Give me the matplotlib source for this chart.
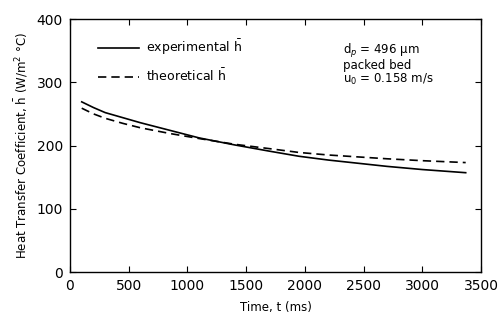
import matplotlib
matplotlib.use("Agg")
import matplotlib.pyplot as plt

time_exp = [100, 200, 300, 450, 600, 850, 1100, 1400, 1700, 1950, 2200, 2450, 2700, 3000, 3370]
h_exp = [269, 260, 252, 244, 236, 224, 212, 201, 191, 183, 177, 172, 167, 162, 157]
time_theo = [100, 200, 300, 450, 600, 850, 1100, 1400, 1700, 1950, 2200, 2450, 2700, 3000, 3370]
h_theo = [259, 250, 243, 235, 228, 219, 211, 202, 195, 189, 185, 182, 179, 176, 173]
xticks = [0, 500, 1000, 1500, 2000, 2500, 3000, 3500]
yticks = [0, 100, 200, 300, 400]

plt.rcParams['font.family'] = ['DejaVu Sans']
fig = plt.figure(figsize=(5.01, 3.2), dpi=100)
ax = fig.add_axes([0.1397, 0.15, 0.8203, 0.7906])

ax.plot(time_exp, h_exp, color='black', lw=1.2, ls='-', label=r'experimental $\bar{\mathrm{h}}$')
ax.plot(time_theo, h_theo, color='black', lw=1.2, ls=(0, (5, 3)), label=r'theoretical $\bar{\mathrm{h}}$')

ax.set_xlim(0, 3500)
ax.set_ylim(0, 400)
ax.set_xticks(xticks)
ax.set_yticks(yticks)
ax.tick_params(direction='in', top=True, right=True, length=4, width=0.8, labelsize=10, pad=5)
for s in ax.spines.values():
    s.set_linewidth(1.0)

ax.set_xlabel('Time, t (ms)', fontsize=8.5, labelpad=6)
ax.set_ylabel(r'Heat Transfer Coefficient, $\bar{\mathrm{h}}$ (W/m$^2$ °C)', fontsize=8.5, labelpad=5)

ax.legend(loc='upper left', bbox_to_anchor=(0.04, 0.97), frameon=False, fontsize=9,
          handlelength=3.3, handletextpad=0.6, labelspacing=0.8)

ax.text(0.665, 0.91, 'd$_p$ = 496 µm\npacked bed\nu$_0$ = 0.158 m/s', transform=ax.transAxes,
        fontsize=8.5, va='top', ha='left', linespacing=0.95)

fig.savefig('out.png', dpi=100)
